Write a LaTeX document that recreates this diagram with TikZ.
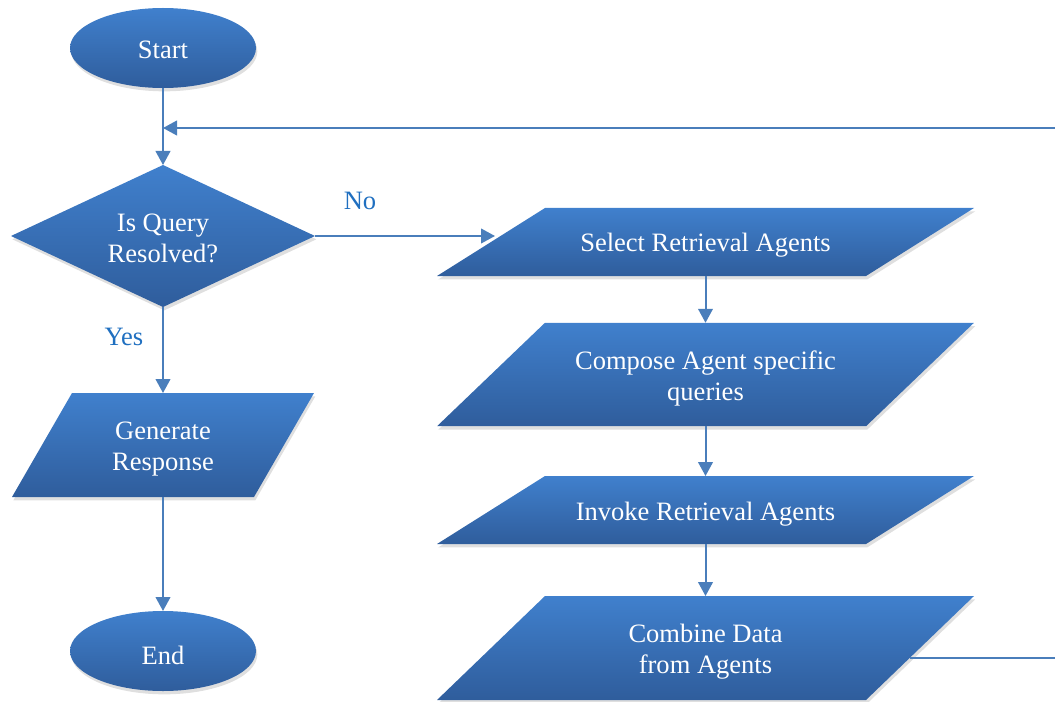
\documentclass[tikz,border=0pt]{standalone}
\usepackage{fontspec}
\setmainfont{Liberation Serif}
\usetikzlibrary{shapes.geometric,arrows.meta,shadows,calc}
\definecolor{lineblue}{RGB}{74,126,187}
\definecolor{topblue}{RGB}{64,128,205}
\definecolor{botblue}{RGB}{47,93,156}
\definecolor{labelblue}{RGB}{31,111,192}
\pgfdeclarelayer{bg}
\pgfsetlayers{bg,main}
\newcommand\paraback[2]{% node name, half offset (px)
  \path[boxfill] ($(#1.north west)+(#2,0)$) -- ($(#1.north east)+(#2,0)$)
    -- ($(#1.south east)-(#2,0)$) -- ($(#1.south west)-(#2,0)$) -- cycle;}
\begin{document}
\begin{tikzpicture}[x=0.75pt,y=-0.75pt,
  txt/.style={text=white,align=center,inner sep=0pt,outer sep=0pt,
    font=\fontsize{19.9}{23.3}\selectfont},
  lowtxt/.style={label={[txt,yshift=-#1]center:\nodetext}},
  boxfill/.style={top color=topblue,bottom color=botblue,
    drop shadow={opacity=0.25,shadow xshift=1pt,shadow yshift=-2.5pt}},
  term/.style={txt,boxfill,ellipse,minimum width=139.5pt,minimum height=60pt},
  decision/.style={txt,boxfill,diamond,shape aspect=2.14,minimum width=228pt,minimum height=106.5pt},
  iobox/.style={txt,rectangle,minimum width=#1},
  lbl/.style={text=labelblue,inner sep=0pt,font=\fontsize{19.9}{23.3}\selectfont},
  conn/.style={draw=lineblue,line width=1.5pt},
  arr/.style={-{Triangle[length=10.5pt,width=11pt]}}
]
\path[use as bounding box] (0,0) rectangle (1055,702);
\clip (0,0) rectangle (1055,702);

% left column
\node[term] (start) at (163,48) {};
\node[txt,yshift=-1.5pt] (starttext) at (start) {Start};
\node[decision] (query) at (163,236) {};
\node[txt,yshift=-1.5pt] (querytext) at (query) {Is Query\\Resolved?};
\node[iobox=181.5pt,minimum height=78pt] (gen) at (163,445) {};
\node[txt,yshift=-3pt] (gentext) at (gen) {Generate\\Response};
\node[term] (end) at (163,651) {};
\node[txt,yshift=-3pt] (endtext) at (end) {End};

% right column
\node[iobox=321.75pt,minimum height=51pt] (select) at (705.5,242) {};
\node[iobox=321.75pt,minimum height=77.6pt] (compose) at (705.5,374.5) {};
\node[iobox=321.75pt,minimum height=51pt] (invoke) at (705.5,510) {};
\node[iobox=321.75pt,minimum height=78pt] (combine) at (705.5,648) {};

\begin{pgfonlayer}{bg}
  \paraback{gen}{30}
  \paraback{select}{54}
  \paraback{compose}{54}
  \paraback{invoke}{54}
  \paraback{combine}{54}
\end{pgfonlayer}

\node[txt,yshift=-2.5pt] (selecttext) at (select) {Select Retrieval Agents};
\node[txt,yshift=-3pt] (composetext) at (compose) {Compose Agent specific\\queries};
\node[txt,yshift=-3pt] (invoketext) at (invoke) {Invoke Retrieval Agents};
\node[txt,yshift=-3pt] (combinetext) at (combine) {Combine Data\\from Agents};

% labels
\node[lbl] (no) at (360,201) {No};
\node[lbl] (yes) at (124,337) {Yes};

% connectors
\coordinate (join) at (163,128);
\coordinate (loopcorner) at (1110,658);
\draw[conn,arr] (start) -- (query);
\draw[conn,arr,shorten >=-3pt] (query.east) -- (query.east -| select.west);
\draw[conn,arr] (query) -- (gen);
\draw[conn,arr] (gen) -- (end);
\draw[conn,arr] (select) -- (compose);
\draw[conn,arr] (compose) -- (invoke);
\draw[conn,arr] (invoke) -- (combine);
\draw[conn,arr] ($(combine.east)+(-10,10)$) -- (loopcorner) |- (join);
\end{tikzpicture}
\end{document}
